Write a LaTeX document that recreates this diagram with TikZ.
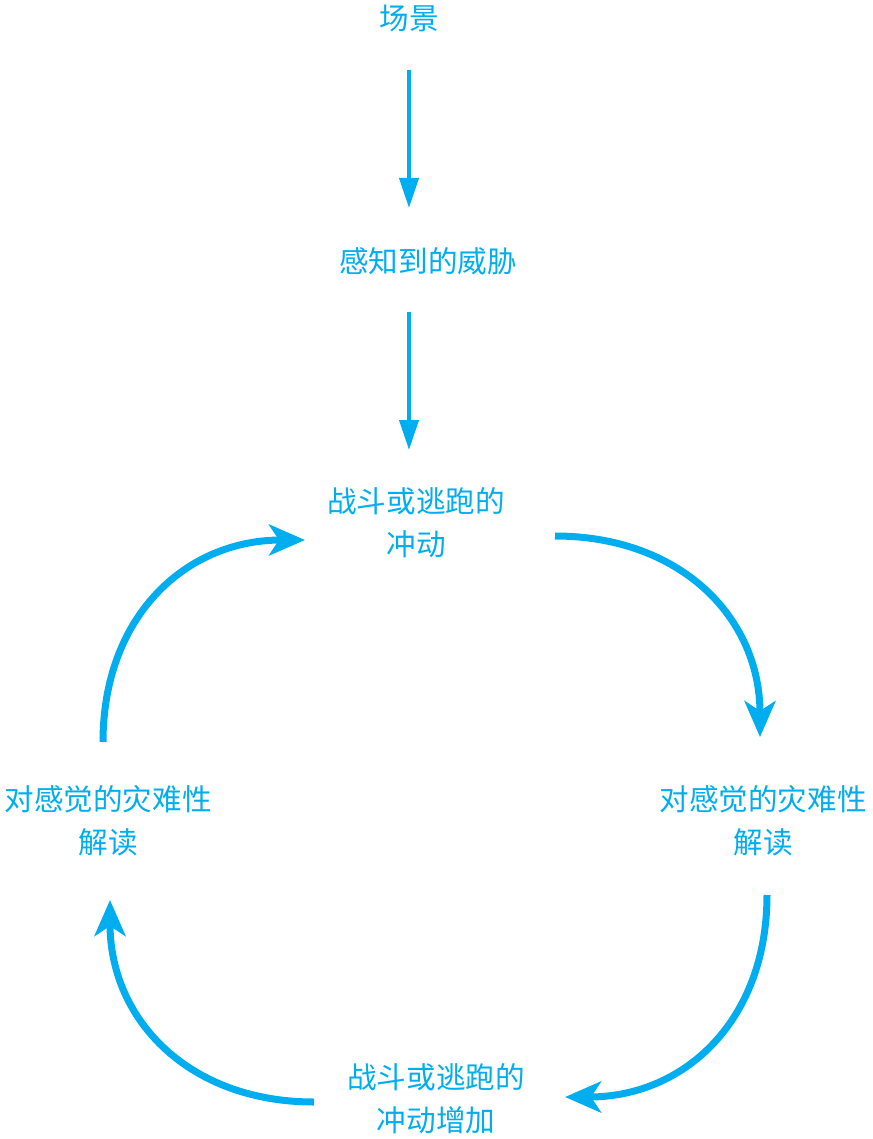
\documentclass[tikz,border=0pt]{standalone}
\usepackage{fontspec}
\setmainfont{Noto Sans CJK SC}
\usetikzlibrary{arrows.meta,calc}
\definecolor{cy}{RGB}{0,174,239}
\begin{document}
\begin{tikzpicture}[x=1pt,y=-1pt,
  lbl/.style={text=cy,font=\fontsize{29.6}{43}\selectfont,align=center,inner sep=0pt},
  thinarrow/.style={draw=cy,line width=4pt,-{Triangle[length=30pt,width=19pt]}},
  thickarrow/.style={draw=cy,line width=7pt,-{Stealth[length=36pt,width=31pt,inset=10pt]}}]
\useasboundingbox (0,0) rectangle (872,1139);
\node[lbl] (scene) at (409,18) {场景};
\node[lbl] (threat) at (428,261) {感知到的威胁};
\node[lbl] (urge) at (416,523) {战斗或逃跑的\\冲动};
\node[lbl] (rinterp) at (763,821) {对感觉的灾难性\\解读};
\node[lbl] (linterp) at (108,821) {对感觉的灾难性\\解读};
\node[lbl] (more) at (436,1099) {战斗或逃跑的\\冲动增加};
\draw[thinarrow] ($(scene.center)+(0,52)$) -- ($(scene.center|-threat.center)+(0,-53)$);
\draw[thinarrow] ($(scene.center|-threat.center)+(0,51)$) -- ($(scene.center|-urge.center)+(0,-73)$);
\draw[thickarrow] ($(urge.center)+(139,13)$) .. controls +(125,0) and +(0,-120) .. ($(rinterp.center)+(-3,-84)$);
\draw[thickarrow] ($(rinterp.center)+(4,74)$) .. controls +(0,125) and +(120,0) .. ($(more.center)+(129,-2)$);
\draw[thickarrow] ($(more.center)+(-122,3)$) .. controls +(-125,0) and +(0,120) .. ($(linterp.center)+(2,79)$);
\draw[thickarrow] ($(linterp.center)+(-5,-79)$) .. controls +(0,-125) and +(-120,0) .. ($(urge.center)+(-111,17)$);
\end{tikzpicture}
\end{document}
